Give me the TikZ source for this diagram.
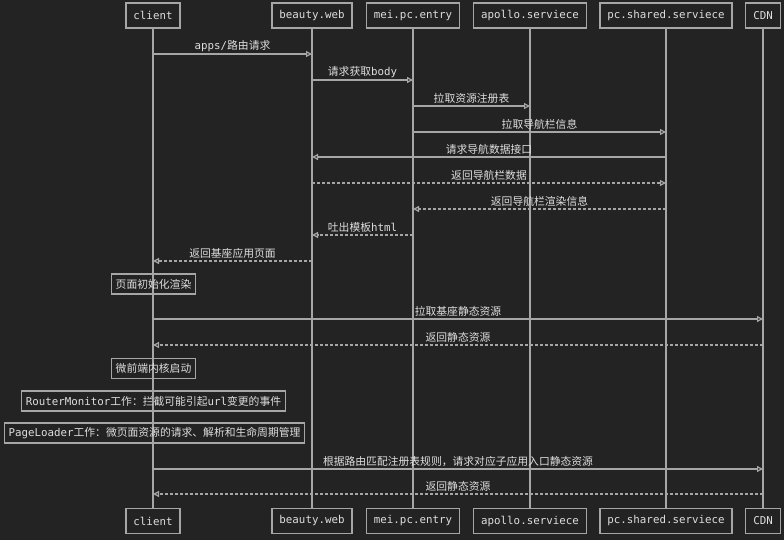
\documentclass[tikz,border=0pt]{standalone}
\usepackage{fontspec}
\setmainfont{DejaVu Sans Mono}
\newfontfamily\cjk{Noto Sans CJK SC}
\newcommand{\zh}[1]{{\cjk #1}}
\usetikzlibrary{arrows.meta}
\definecolor{bgdark}{HTML}{232323}
\definecolor{linegray}{HTML}{A6A6A6}
\definecolor{txtgray}{HTML}{DEDEDE}

\begin{document}
\begin{tikzpicture}[x=1pt, y=-1pt,
  actor/.style={draw=linegray, line width=1.2pt, text=txtgray, inner xsep=7.5pt,
    minimum height=25pt, font=\fontsize{10.8}{13}\selectfont},
  life/.style={draw=linegray, line width=1.2pt},
  msg/.style={draw=linegray, line width=1.2pt, -{Triangle[open, length=6pt, width=6pt]}},
  ret/.style={msg, dash pattern=on 3pt off 2pt},
  lbl/.style={above, text=txtgray, inner sep=2pt, font=\fontsize{10.8}{13}\selectfont},
  note/.style={draw=linegray, line width=1.2pt, text=txtgray, inner xsep=4pt,
    minimum height=20pt, font=\fontsize{10.8}{13}\selectfont}]
% fundo
\fill[bgdark] (0,0) rectangle (784,540);
% participantes e linhas de vida
\foreach \n/\x/\t in {client/153/client, web/312/beauty.web, entry/413/mei.pc.entry,
    apollo/530/apollo.serviece, shared/666/pc.shared.serviece, cdn/763/CDN} {
  \node[actor] (\n) at (\x,15.5) {\t};
  \node[actor] (\n-b) at (\x,521) {\t};
  \draw[life] (\n) -- (\n-b);
}
% carregamento do base
\draw[msg] (client |- 0,54) -- node[lbl] {apps/\zh{路由请求}} (web |- 0,54);
\draw[msg] (web |- 0,80) -- node[lbl] {\zh{请求获取}body} (entry |- 0,80);
\draw[msg] (entry |- 0,106) -- node[lbl] {\zh{拉取资源注册表}} (apollo |- 0,106);
\draw[msg] (entry |- 0,132) -- node[lbl] {\zh{拉取导航栏信息}} (shared |- 0,132);
\draw[msg] (shared |- 0,157) -- node[lbl] {\zh{请求导航数据接口}} (web |- 0,157);
\draw[ret] (web |- 0,183) -- node[lbl] {\zh{返回导航栏数据}} (shared |- 0,183);
\draw[ret] (shared |- 0,209) -- node[lbl] {\zh{返回导航栏渲染信息}} (entry |- 0,209);
\draw[ret] (entry |- 0,235) -- node[lbl] {\zh{吐出模板}html} (web |- 0,235);
\draw[ret] (web |- 0,261) -- node[lbl] {\zh{返回基座应用页面}} (client |- 0,261);
\node[note] (init) at (153.5,284) {\zh{页面初始化渲染}};
% recursos estaticos
\draw[msg] (client |- 0,319) -- node[lbl] {\zh{拉取基座静态资源}} (cdn |- 0,319);
\draw[ret] (cdn |- 0,345) -- node[lbl] {\zh{返回静态资源}} (client |- 0,345);
% micro frontend
\node[note] (kernel) at (153.5,368.5) {\zh{微前端内核启动}};
\node[note] (router) at (153.5,401) {RouterMonitor\zh{工作：拦截可能引起}url\zh{变更的事件}};
\node[note] (loader) at (154.5,433) {PageLoader\zh{工作：微页面资源的请求、解析和生命周期管理}};
\draw[msg] (client |- 0,469) -- node[lbl] {\zh{根据路由匹配注册表规则，请求对应子应用入口静态资源}} (cdn |- 0,469);
\draw[ret] (cdn |- 0,494) -- node[lbl] {\zh{返回静态资源}} (client |- 0,494);
\end{tikzpicture}
\end{document}
